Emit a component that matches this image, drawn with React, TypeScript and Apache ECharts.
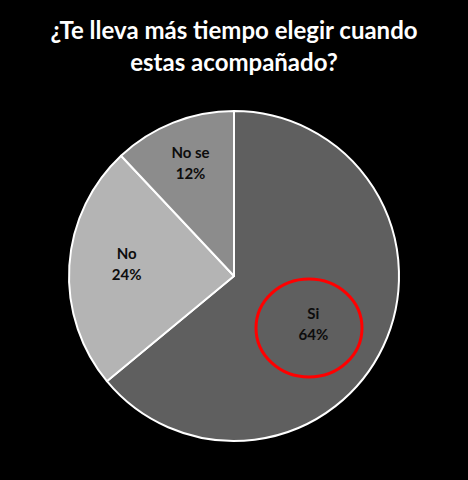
import React, { useEffect, useRef } from "react";
import * as echarts from "echarts";

const titleLines = ["¿Te lleva más tiempo elegir cuando", "estas acompañado?"];
const categories = ["Si", "No", "No se"];
const values = [64, 24, 12];
const sliceColors = ["#5f5f5f", "#b4b4b4", "#8c8c8c"];
const labelShift = [
  [2, 11],
  [-22, -7],
  [-12, -34],
];

export default function App() {
  const ref = useRef<HTMLDivElement>(null);
  useEffect(() => {
    if (!ref.current) return;
    const chart = echarts.init(ref.current, undefined, { renderer: "svg" });
    chart.setOption({
      animation: false,
      backgroundColor: "#000000",
      title: {
        text: titleLines.join("\n"),
        left: "center",
        top: 8,
        textStyle: {
          color: "#ffffff",
          fontFamily: "Lato",
          fontWeight: "bold",
          fontSize: 24,
          lineHeight: 32,
        },
      },
      graphic: [
        {
          type: "ellipse",
          shape: { cx: 309, cy: 328, rx: 53, ry: 49 },
          style: { fill: "none", stroke: "#ff0000", lineWidth: 3 },
          z: 100,
        },
      ],
      series: [
        {
          type: "pie",
          center: [234, 276],
          radius: 165,
          startAngle: 90,
          clockwise: true,
          data: categories.map((c, i) => ({
            name: c,
            value: values[i],
            itemStyle: { color: sliceColors[i] },
          })),
          itemStyle: { borderColor: "#ffffff", borderWidth: 2 },
          label: {
            position: "inside",
            formatter: (p: any) => `${p.name}\n${p.value}%`,
            color: "#0d0d0d",
            fontFamily: "Lato",
            fontWeight: "bold",
            fontSize: 15,
            lineHeight: 21,
            align: "center",
          },
          labelLayout: (p: any) => ({
            dx: labelShift[p.dataIndex][0],
            dy: labelShift[p.dataIndex][1],
          }),
          labelLine: { show: false },
          emphasis: { disabled: true },
        },
      ],
    });
    return () => chart.dispose();
  }, []);
  return (
    <div
      ref={ref}
      style={{ position: "fixed", left: 0, top: 0, width: 468, height: 480 }}
    />
  );
}
